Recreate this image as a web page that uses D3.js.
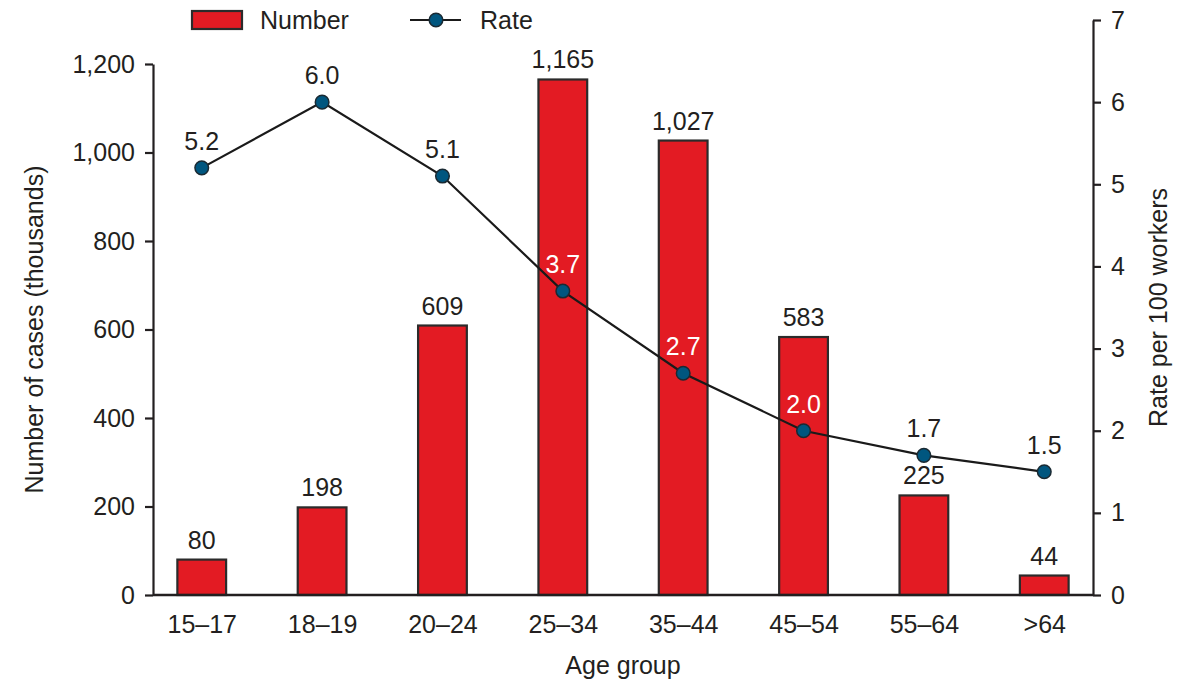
<!DOCTYPE html>
<html><head><meta charset="utf-8">
<script src="https://cdn.jsdelivr.net/npm/d3@7"></script>
<style>
body{margin:0;background:#fff;}
text{font-family:"Liberation Sans",Arial,Helvetica,sans-serif;fill:#231f20;}
</style></head>
<body><svg id="c" width="1186" height="683"></svg>
<script>
const categories = ["15–17","18–19","20–24","25–34","35–44","45–54","55–64",">64"];
const numberValues = [80,198,609,1165,1027,583,225,44];
const rateValues = [5.2,6.0,5.1,3.7,2.7,2.0,1.7,1.5];
const leftTicks = [0,200,400,600,800,1000,1200];
const rightTicks = [0,1,2,3,4,5,6,7];

const FS = 25;
const svg = d3.select("#c");
const x0 = 153, x1 = 1093, yBase = 595;
const x = d3.scalePoint().domain(categories).range([x0, x1]).padding(0.405);
const yL = d3.scaleLinear().domain([0,1200]).range([yBase, 64]);
const yR = d3.scaleLinear().domain([0,7]).range([yBase, 20]);
const barW = x.step()*0.405;
const ink = "#231f20";
const fmt = d3.format(",");

// bars
svg.append("g").selectAll("rect").data(numberValues).join("rect")
  .attr("x",(d,i)=>x(categories[i])-barW/2)
  .attr("y",d=>yL(d))
  .attr("width",barW)
  .attr("height",d=>yBase-yL(d))
  .attr("fill","#e31b23").attr("stroke","#2b2b2b").attr("stroke-width",2.2);

// bar labels
svg.append("g").selectAll("text").data(numberValues).join("text")
  .attr("x",(d,i)=>x(categories[i]))
  .attr("y",d=>yL(d)-11)
  .attr("text-anchor","middle").attr("font-size",FS)
  .text(d=>fmt(d));

// left axis
const axL = svg.append("g").attr("transform",`translate(${x0},0)`)
  .call(d3.axisLeft(yL).tickValues(leftTicks).tickFormat(fmt).tickSizeOuter(0).tickSizeInner(8).tickPadding(10));
// right axis
const axR = svg.append("g").attr("transform",`translate(${x1},0)`)
  .call(d3.axisRight(yR).tickValues(rightTicks).tickFormat(d3.format("d")).tickSizeOuter(0).tickSizeInner(8).tickPadding(10));
[axL,axR].forEach(a=>{
  a.select(".domain").attr("stroke",ink).attr("stroke-width",2.2);
  a.selectAll(".tick line").attr("stroke",ink).attr("stroke-width",2.2);
  a.selectAll(".tick text").attr("font-size",FS).attr("fill",ink)
    .attr("font-family","'Liberation Sans',Arial,sans-serif");
});

// x axis
const axX = svg.append("g").attr("transform",`translate(0,${yBase})`)
  .call(d3.axisBottom(x).tickSize(0).tickPadding(20));
axX.select(".domain").attr("d",`M${x0},0H${x1}`).attr("stroke",ink).attr("stroke-width",2.4);
axX.selectAll(".tick text").attr("font-size",FS).attr("fill",ink)
  .attr("font-family","'Liberation Sans',Arial,sans-serif");

// line
const line = d3.line().x((d,i)=>x(categories[i])).y(d=>yR(d));
svg.append("path").datum(rateValues).attr("d",line)
  .attr("fill","none").attr("stroke","#1a1a1a").attr("stroke-width",2.2);
svg.append("g").selectAll("circle").data(rateValues).join("circle")
  .attr("cx",(d,i)=>x(categories[i])).attr("cy",d=>yR(d)).attr("r",6.8)
  .attr("fill","#00567f").attr("stroke","#1a2a33").attr("stroke-width",1.5);
svg.append("g").selectAll("text").data(rateValues).join("text")
  .attr("x",(d,i)=>x(categories[i]))
  .attr("y",d=>yR(d)-18)
  .attr("text-anchor","middle").attr("font-size",FS)
  .style("fill",(d,i)=> (yR(d)-34 > yL(numberValues[i])) ? "#ffffff" : ink)
  .text(d=>d3.format(".1f")(d));

// axis titles
svg.append("text").attr("transform",`translate(43,${(yBase+64)/2}) rotate(-90)`)
  .attr("text-anchor","middle").attr("font-size",FS).text("Number of cases (thousands)");
svg.append("text").attr("transform",`translate(1167,${(yBase+20)/2}) rotate(-90)`)
  .attr("text-anchor","middle").attr("font-size",FS).text("Rate per 100 workers");
svg.append("text").attr("x",(x0+x1)/2).attr("y",674)
  .attr("text-anchor","middle").attr("font-size",FS).text("Age group");

// legend
const lg = svg.append("g");
lg.append("rect").attr("x",192).attr("y",11).attr("width",50).attr("height",18)
  .attr("fill","#e31b23").attr("stroke","#2b2b2b").attr("stroke-width",2.2);
lg.append("text").attr("x",260).attr("y",29).attr("font-size",FS).text("Number");
lg.append("line").attr("x1",410).attr("x2",461).attr("y1",20).attr("y2",20)
  .attr("stroke","#1a1a1a").attr("stroke-width",2.2);
lg.append("circle").attr("cx",436).attr("cy",20).attr("r",6.8)
  .attr("fill","#00567f").attr("stroke","#1a2a33").attr("stroke-width",1.5);
lg.append("text").attr("x",480).attr("y",29).attr("font-size",FS).text("Rate");
</script></body></html>
